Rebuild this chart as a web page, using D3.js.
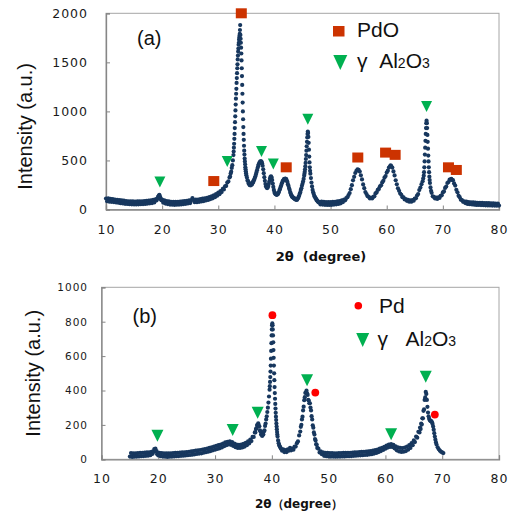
<!DOCTYPE html>
<html>
<head>
<meta charset="utf-8">
<script src="https://cdn.jsdelivr.net/npm/d3@7"></script>
<style>
  html, body { margin: 0; padding: 0; background: #fff; }
  svg { display: block; }
  text { white-space: pre; }
</style>
</head>
<body>
<svg id="chart" width="513" height="514"></svg>
<script>
// ---- XRD scan (a): PdO / gamma-Al2O3, [2theta, intensity] ----
const scanA = [
[10.0,112],[10.2,84],[10.4,114],[10.6,80],[10.8,108],[11.0,78],[11.2,106],[11.4,76],[11.6,102],[11.8,72],
[12.0,98],[12.2,70],[12.4,96],[12.6,64],[12.8,92],[13.0,62],[13.2,90],[13.4,58],[13.6,86],[13.8,56],
[14.0,84],[14.2,54],[14.4,82],[14.6,53],[14.8,82],[15.0,52],[15.2,81],[15.4,52],[15.6,82],[15.8,53],
[16.0,83],[16.2,54],[16.4,84],[16.6,55],[16.8,86],[17.0,57],[17.2,88],[17.4,60],[17.6,90],[17.8,63],
[18.0,94],[18.2,66],[18.4,98],[18.6,72],[18.8,104],[19.0,92],[19.1,110],[19.2,112],[19.3,132],[19.4,140],
[19.5,150],[19.6,134],[19.7,120],[19.8,100],[19.9,94],[20.0,100],[20.2,70],[20.4,92],[20.6,60],[20.8,86],
[21.0,55],[21.2,82],[21.4,50],[21.6,78],[21.8,49],[22.0,77],[22.2,48],[22.4,78],[22.6,49],[22.8,79],
[23.0,50],[23.2,80],[23.4,52],[23.6,82],[23.8,55],[24.0,85],[24.2,58],[24.4,88],[24.6,61],[24.8,92],
[25.0,66],[25.2,96],[25.4,116],[25.6,96],[25.8,74],[26.0,100],[26.2,74],[26.4,102],[26.6,78],[26.8,106],
[27.0,82],[27.2,110],[27.4,86],[27.6,114],[27.8,92],[28.0,120],[28.2,98],[28.4,126],[28.6,106],[28.8,134],
[29.0,114],[29.2,144],[29.4,126],[29.6,156],[29.8,140],[30.0,172],[30.2,156],[30.4,188],[30.6,178],[30.8,210],
[31.0,204],[31.2,236],[31.4,240],[31.6,274],[31.8,286],[32.0,326],[32.1,336],[32.2,366],[32.3,386],[32.4,424],
[32.5,452],[32.6,500],[32.7,555],[32.74,590],[32.78,630],[32.82,670],[32.86,720],[32.9,770],[32.94,830],[32.98,890],
[33.02,950],[33.06,1010],[33.1,1070],[33.14,1130],[33.18,1180],[33.22,1230],[33.26,1290],[33.3,1340],[33.34,1390],[33.38,1440],
[33.42,1480],[33.46,1530],[33.5,1570],[33.54,1610],[33.58,1640],[33.62,1680],[33.66,1700],[33.7,1730],[33.74,1750],[33.78,1770],
[33.82,1790],[33.86,1830],[33.9,1880],[33.94,1780],[33.98,1740],[34.02,1700],[34.06,1650],[34.1,1590],[34.14,1520],[34.18,1440],
[34.22,1360],[34.26,1270],[34.3,1180],[34.34,1090],[34.38,1000],[34.42,920],[34.46,840],[34.5,770],[34.54,710],[34.58,650],
[34.62,600],[34.66,560],[34.7,520],[34.74,490],[34.78,460],[34.82,430],[34.86,410],[34.9,390],[34.95,370],[35.0,350],
[35.1,326],[35.2,296],[35.3,290],[35.4,266],[35.5,268],[35.6,248],[35.7,258],[35.8,246],[35.9,264],[36.0,256],
[36.1,276],[36.2,276],[36.3,296],[36.4,302],[36.5,322],[36.6,336],[36.7,356],[36.8,378],[36.9,400],[37.0,422],
[37.1,442],[37.2,460],[37.3,474],[37.4,484],[37.5,490],[37.6,492],[37.7,488],[37.8,472],[37.9,446],[38.0,410],
[38.1,370],[38.2,330],[38.3,292],[38.4,260],[38.5,238],[38.6,224],[38.7,218],[38.8,224],[38.9,240],[39.0,262],
[39.1,288],[39.2,314],[39.3,332],[39.4,338],[39.5,326],[39.6,300],[39.7,264],[39.8,230],[39.9,200],[40.0,178],
[40.1,166],[40.2,156],[40.3,154],[40.4,150],[40.5,154],[40.6,156],[40.7,170],[40.8,178],[40.9,198],[41.0,210],
[41.1,230],[41.2,244],[41.3,264],[41.4,276],[41.5,292],[41.6,298],[41.7,310],[41.8,310],[41.9,316],[42.0,312],
[42.1,310],[42.2,294],[42.3,282],[42.4,258],[42.5,242],[42.6,218],[42.7,202],[42.8,178],[42.9,164],[43.0,146],
[43.1,138],[43.2,126],[43.3,124],[43.4,116],[43.5,116],[43.6,108],[43.7,108],[43.8,100],[43.9,102],[44.0,98],
[44.1,108],[44.2,114],[44.3,130],[44.4,140],[44.5,160],[44.6,174],[44.7,198],[44.8,216],[44.9,242],[45.0,262],
[45.1,285],[45.2,312],[45.3,345],[45.35,365],[45.4,385],[45.45,410],[45.5,440],[45.55,475],[45.6,515],[45.65,555],
[45.7,600],[45.75,645],[45.8,690],[45.85,735],[45.9,770],[45.95,795],[46.0,780],[46.05,740],[46.1,680],[46.15,610],
[46.2,540],[46.25,480],[46.3,430],[46.35,395],[46.4,365],[46.5,320],[46.6,275],[46.7,235],[46.8,200],[46.9,175],
[47.0,158],[47.1,138],[47.2,130],[47.3,116],[47.4,110],[47.5,96],[47.6,92],[47.7,82],[47.8,80],[47.9,72],
[48.0,72],[48.2,52],[48.4,80],[48.6,50],[48.8,78],[49.0,48],[49.2,76],[49.4,47],[49.6,75],[49.8,47],
[50.0,76],[50.2,48],[50.4,77],[50.6,50],[50.8,79],[51.0,53],[51.2,82],[51.4,57],[51.6,86],[51.8,63],
[52.0,92],[52.2,76],[52.4,100],[52.6,94],[52.8,116],[53.0,126],[53.2,147],[53.4,168],[53.6,207],[53.8,248],
[54.0,297],[54.2,333],[54.4,372],[54.6,393],[54.8,410],[55.0,403],[55.2,387],[55.4,348],[55.6,307],[55.8,256],
[56.0,217],[56.2,178],[56.4,157],[56.6,136],[56.8,130],[57.0,112],[57.2,120],[57.4,112],[57.6,130],[57.8,134],
[58.0,164],[58.2,174],[58.4,200],[58.6,210],[58.8,236],[59.0,246],[59.2,276],[59.4,292],[59.6,324],[59.8,341],
[60.0,376],[60.2,396],[60.4,428],[60.6,440],[60.7,450],[60.8,443],[61.0,427],[61.2,388],[61.4,347],[61.6,298],
[61.8,257],[62.0,216],[62.2,190],[62.4,163],[62.6,150],[62.8,126],[63.0,124],[63.2,102],[63.4,106],[63.6,88],
[63.8,98],[64.0,80],[64.2,92],[64.4,80],[64.6,96],[64.8,90],[65.0,112],[65.2,114],[65.4,142],[65.6,158],
[65.8,198],[66.0,224],[66.2,258],[66.4,288],[66.5,315],[66.6,345],[66.65,380],[66.7,430],[66.75,490],[66.8,560],
[66.85,630],[66.9,700],[66.95,770],[67.0,830],[67.05,880],[67.1,905],[67.15,880],[67.2,830],[67.25,760],[67.3,690],
[67.35,620],[67.4,550],[67.45,490],[67.5,430],[67.55,380],[67.6,335],[67.65,300],[67.7,270],[67.8,225],[67.9,190],
[68.0,170],[68.2,134],[68.4,130],[68.6,112],[68.8,122],[69.0,108],[69.2,124],[69.4,118],[69.6,140],[69.8,144],
[70.0,174],[70.2,184],[70.4,220],[70.6,234],[70.8,270],[71.0,280],[71.2,304],[71.4,304],[71.5,312],[71.6,304],
[71.8,299],[72.0,266],[72.2,244],[72.4,201],[72.6,176],[72.8,141],[73.0,126],[73.2,100],[73.4,96],[73.6,78],
[73.8,84],[74.0,66],[74.2,80],[74.4,56],[74.6,76],[74.8,54],[75.0,74],[75.2,51],[75.4,72],[75.6,49],
[75.8,70],[76.0,47],[76.2,69],[76.4,46],[76.6,68],[76.8,45],[77.0,67],[77.2,44],[77.4,66],[77.6,43],
[77.8,65],[78.0,42],[78.2,64],[78.4,41],[78.6,63],[78.8,40],[79.0,62],[79.2,40],[79.4,61],[79.6,39],
[79.8,60],[80.0,40]
];

// ---- XRD scan (b): Pd / gamma-Al2O3, [2theta, intensity] ----
const scanB = [
[15.0,16],[15.2,36],[15.4,14],[15.6,34],[15.8,15],[16.0,35],[16.2,16],[16.4,36],[16.6,17],[16.8,37],
[17.0,18],[17.2,38],[17.4,19],[17.6,39],[17.8,20],[18.0,40],[18.2,21],[18.4,41],[18.6,24],[18.8,44],
[19.0,32],[19.1,46],[19.2,44],[19.3,60],[19.4,56],[19.5,62],[19.6,46],[19.7,48],[19.8,30],[19.9,38],
[20.0,22],[20.2,38],[20.4,18],[20.6,36],[20.8,16],[21.0,35],[21.2,15],[21.4,34],[21.6,14],[21.8,34],
[22.0,15],[22.2,35],[22.4,16],[22.6,36],[22.8,17],[23.0,37],[23.2,18],[23.4,38],[23.6,19],[23.8,39],
[24.0,20],[24.2,40],[24.4,21],[24.6,41],[24.8,22],[25.0,42],[25.2,24],[25.4,44],[25.6,25],[25.8,46],
[26.0,27],[26.2,48],[26.4,29],[26.6,50],[26.8,31],[27.0,52],[27.2,33],[27.4,54],[27.6,35],[27.8,56],
[28.0,38],[28.2,59],[28.4,41],[28.6,62],[28.8,44],[29.0,66],[29.2,48],[29.4,70],[29.6,52],[29.8,74],
[30.0,56],[30.2,78],[30.4,60],[30.6,82],[30.8,64],[31.0,86],[31.2,69],[31.4,92],[31.6,76],[31.8,98],
[32.0,82],[32.2,102],[32.4,86],[32.6,104],[32.8,84],[33.0,100],[33.2,78],[33.4,92],[33.6,70],[33.8,86],
[34.0,66],[34.2,84],[34.4,66],[34.6,86],[34.8,69],[35.0,90],[35.2,74],[35.4,96],[35.6,82],[35.8,104],
[36.0,92],[36.2,114],[36.4,106],[36.6,130],[36.8,130],[37.0,156],[37.1,156],[37.2,176],[37.3,181],[37.4,199],
[37.5,198],[37.6,209],[37.7,196],[37.8,192],[37.9,168],[38.0,162],[38.1,144],[38.2,146],[38.3,136],[38.4,146],
[38.5,144],[38.6,162],[38.7,168],[38.8,194],[38.9,208],[39.0,232],[39.1,250],[39.2,275],[39.3,300],[39.4,330],
[39.5,365],[39.6,405],[39.64,425],[39.68,450],[39.72,478],[39.76,510],[39.8,545],[39.84,585],[39.88,630],[39.92,675],
[39.96,720],[40.0,755],[40.04,780],[40.08,790],[40.12,780],[40.16,755],[40.2,720],[40.24,680],[40.28,635],[40.32,590],
[40.36,545],[40.4,500],[40.44,460],[40.48,420],[40.52,385],[40.56,352],[40.6,322],[40.64,295],[40.68,270],[40.72,248],
[40.76,228],[40.8,208],[40.84,190],[40.88,174],[40.92,158],[40.96,144],[41.0,132],[41.1,110],[41.2,94],[41.3,82],
[41.4,74],[41.5,68],[41.6,62],[41.8,50],[42.0,58],[42.2,42],[42.4,54],[42.6,42],[42.8,58],[43.0,50],
[43.2,66],[43.4,52],[43.6,62],[43.8,56],[44.0,74],[44.2,74],[44.4,94],[44.6,104],[44.8,139],[45.0,161],
[45.1,189],[45.2,201],[45.3,232],[45.4,248],[45.5,284],[45.6,306],[45.7,344],[45.8,361],[45.9,386],[46.0,388],
[46.1,399],[46.2,384],[46.3,374],[46.4,346],[46.5,342],[46.6,326],[46.7,326],[46.8,301],[46.9,284],[47.0,251],
[47.1,232],[47.2,198],[47.3,184],[47.4,156],[47.5,144],[47.6,118],[47.7,110],[47.8,88],[47.9,84],[48.0,66],
[48.2,62],[48.4,40],[48.6,46],[48.8,30],[49.0,40],[49.2,20],[49.4,37],[49.6,18],[49.8,37],[50.0,17],
[50.2,36],[50.4,16],[50.6,36],[50.8,16],[51.0,35],[51.2,15],[51.4,35],[51.6,16],[51.8,36],[52.0,16],
[52.2,36],[52.4,17],[52.6,37],[52.8,17],[53.0,37],[53.2,18],[53.4,38],[53.6,18],[53.8,38],[54.0,19],
[54.2,39],[54.4,20],[54.6,40],[54.8,21],[55.0,41],[55.2,22],[55.4,42],[55.6,23],[55.8,43],[56.0,24],
[56.2,44],[56.4,25],[56.6,45],[56.8,26],[57.0,46],[57.2,28],[57.4,48],[57.6,30],[57.8,50],[58.0,33],
[58.2,53],[58.4,37],[58.6,57],[58.8,42],[59.0,62],[59.2,48],[59.4,67],[59.6,54],[59.8,72],[60.0,62],
[60.2,80],[60.4,68],[60.6,86],[60.8,72],[61.0,88],[61.2,72],[61.4,84],[61.6,64],[61.8,76],[62.0,52],
[62.2,70],[62.4,46],[62.6,66],[62.8,43],[63.0,65],[63.2,44],[63.4,68],[63.6,48],[63.8,74],[64.0,56],
[64.2,82],[64.4,66],[64.6,94],[64.8,82],[65.0,110],[65.2,100],[65.4,132],[65.6,126],[65.8,160],[66.0,156],
[66.1,185],[66.2,176],[66.3,208],[66.4,202],[66.5,238],[66.6,238],[66.7,282],[66.8,290],[66.9,345],[67.0,360],
[67.1,392],[67.2,380],[67.3,345],[67.4,305],[67.5,272],[67.6,250],[67.7,236],[67.8,228],[67.9,224],[68.0,222],
[68.1,220],[68.2,215],[68.3,205],[68.4,190],[68.5,172],[68.6,152],[68.7,132],[68.8,114],[68.9,98],[69.0,86],
[69.2,70],[69.4,58],[69.6,50],[69.8,44],[70.0,40],[70.2,36]
];

// Phase reflections marked above the patterns, [2theta, intensity]
const pdoMarksA   = [[34.1,2000],[29.2,290],[42.1,430],[54.85,530],[59.8,580],[61.5,557],[71.0,430],[72.4,403]];
const aluminaMarksA = [[19.6,280],[31.6,490],[37.7,590],[39.8,465],[45.95,920],[67.1,1050]];
const pdMarksB    = [[40.1,838],[47.65,388],[68.7,260]];
const aluminaMarksB = [[19.85,137],[33.1,170],[37.5,270],[46.2,460],[61.0,145],[67.1,480]];

// Axis ticks
const xTicks  = [10, 20, 30, 40, 50, 60, 70, 80];
const yTicksA = [0, 500, 1000, 1500, 2000];
const yTicksB = [0, 200, 400, 600, 800, 1000];

const DOT = "#17375e", RED_SQ = "#cc3300", GREEN = "#00b050", RED_DOT = "#ff0000";
const AXIS = "#868686", FRAME = "#a6a6a6";

const svg = d3.select("#chart");

function triangleDown(w, h) {
  return `M${-w/2},${-h/2}L${w/2},${-h/2}L0,${h/2}Z`;
}

function drawPanel(cfg) {
  const x = d3.scaleLinear().domain([10, 80]).range([cfg.left, cfg.right]);
  const y = d3.scaleLinear().domain(cfg.yDomain).range([cfg.bottom, cfg.top]);
  const g = svg.append("g");

  // plot frame
  g.append("rect")
    .attr("x", cfg.left).attr("y", cfg.top)
    .attr("width", cfg.right - cfg.left).attr("height", cfg.bottom - cfg.top)
    .attr("fill", "none").attr("stroke", FRAME).attr("stroke-width", 1);

  // axes with inward ticks
  const xa = g.append("g").attr("transform", `translate(0,${cfg.bottom})`)
    .call(d3.axisBottom(x).tickValues(xTicks).tickSize(-4).tickPadding(cfg.xPad).tickFormat(d3.format("d")));
  const ya = g.append("g").attr("transform", `translate(${cfg.left},0)`)
    .call(d3.axisLeft(y).tickValues(cfg.yTicks).tickSize(-4).tickPadding(cfg.yPad).tickFormat(d3.format("d")));
  [xa, ya].forEach(a => {
    a.select(".domain").attr("stroke", AXIS).attr("stroke-width", 1.3);
    a.selectAll(".tick line").attr("stroke", AXIS);
    a.selectAll(".tick text").attr("fill", "#1a1a1a")
      .attr("font-family", "DejaVu Sans").style("letter-spacing", "1px");
  });
  xa.selectAll(".tick text").attr("font-size", cfg.xFont);
  ya.selectAll(".tick text").attr("font-size", cfg.yFont);

  // scan points
  g.append("g").selectAll("circle").data(cfg.scan).join("circle")
    .attr("cx", d => x(d[0])).attr("cy", d => y(d[1]))
    .attr("r", 2.1).attr("fill", DOT);

  // axis titles
  g.append("text")
    .attr("transform", `translate(${cfg.yTitleX},${(cfg.top + cfg.bottom) / 2 + cfg.yTitleDy}) rotate(-90)`)
    .attr("text-anchor", "middle").attr("dominant-baseline", "central")
    .attr("font-family", "Liberation Sans, Arial").attr("font-size", 20).attr("fill", "#111")
    .text("Intensity (a.u.)");
  g.append("text")
    .attr("x", cfg.xTitleX).attr("y", cfg.xTitleY)
    .attr("text-anchor", "middle")
    .attr("font-family", "DejaVu Sans").attr("font-weight", "bold")
    .attr("font-size", cfg.xTitleFont).attr("fill", "#111")
    .text(cfg.xTitle);

  // panel label
  g.append("text")
    .attr("x", cfg.left + 31).attr("y", cfg.top + cfg.labelDy)
    .attr("font-family", "Liberation Sans, Arial").attr("font-size", 20).attr("fill", "#111")
    .text(cfg.label);

  return { g, x, y };
}

// ---------- panel (a) ----------
const A = drawPanel({
  left: 106, right: 499, top: 13.3, bottom: 209.5,
  yDomain: [0, 2000], yTicks: yTicksA, scan: scanA,
  xPad: 16, yPad: 18, xFont: 12.5, yFont: 12.5,
  yTitleX: 25, yTitleDy: 15,
  xTitle: "2θ  (degree)", xTitleX: 321, xTitleY: 261, xTitleFont: 13,
  label: "(a)", labelDy: 32
});

A.g.append("g").selectAll("path").data(aluminaMarksA).join("path")
  .attr("transform", d => `translate(${A.x(d[0])},${A.y(d[1])})`)
  .attr("d", triangleDown(11, 11)).attr("fill", GREEN);
A.g.append("g").selectAll("rect").data(pdoMarksA).join("rect")
  .attr("x", d => A.x(d[0]) - 5.5).attr("y", d => A.y(d[1]) - 5)
  .attr("width", 11).attr("height", 10).attr("fill", RED_SQ);

// legend (a)
A.g.append("rect").attr("x", 333).attr("y", 26).attr("width", 11.5).attr("height", 10.5).attr("fill", RED_SQ);
A.g.append("text").attr("x", 357).attr("y", 37)
  .attr("font-family", "Liberation Sans, Arial").attr("font-size", 21).attr("fill", "#111").text("PdO");
A.g.append("path").attr("transform", "translate(340.3,62.5)").attr("d", triangleDown(14, 15)).attr("fill", GREEN);
{
  const t = A.g.append("text").attr("x", 357).attr("y", 68)
    .attr("font-family", "Liberation Sans, Arial").attr("font-size", 21).attr("fill", "#111");
  t.append("tspan").text("γ  Al");
  t.append("tspan").attr("font-size", 14).text("2");
  t.append("tspan").text("O");
  t.append("tspan").attr("font-size", 14).text("3");
}

// ---------- panel (b) ----------
const B = drawPanel({
  left: 101.5, right: 499, top: 287.3, bottom: 459.3,
  yDomain: [0, 1000], yTicks: yTicksB, scan: scanB,
  xPad: 15, yPad: 13.5, xFont: 12.5, yFont: 10.5,
  yTitleX: 33, yTitleDy: 0,
  xTitle: "2θ（degree）", xTitleX: 299, xTitleY: 508, xTitleFont: 12,
  label: "(b)", labelDy: 36
});

B.g.append("g").selectAll("path").data(aluminaMarksB).join("path")
  .attr("transform", d => `translate(${B.x(d[0])},${B.y(d[1])})`)
  .attr("d", triangleDown(12, 12)).attr("fill", GREEN);
B.g.append("g").selectAll("circle").data(pdMarksB).join("circle")
  .attr("cx", d => B.x(d[0])).attr("cy", d => B.y(d[1]))
  .attr("r", 3.9).attr("fill", RED_DOT);

// legend (b)
B.g.append("circle").attr("cx", 358.3).attr("cy", 305.7).attr("r", 3.8).attr("fill", RED_DOT);
B.g.append("text").attr("x", 379).attr("y", 313)
  .attr("font-family", "Liberation Sans, Arial").attr("font-size", 21).attr("fill", "#111").text("Pd");
B.g.append("path").attr("transform", "translate(362.7,340)").attr("d", triangleDown(13, 14)).attr("fill", GREEN);
{
  const t = B.g.append("text").attr("x", 377.5).attr("y", 345.5)
    .attr("font-family", "Liberation Sans, Arial").attr("font-size", 21).attr("fill", "#111");
  t.append("tspan").text("γ   Al");
  t.append("tspan").attr("font-size", 14).text("2");
  t.append("tspan").text("O");
  t.append("tspan").attr("font-size", 14).text("3");
}
</script>
</body>
</html>
